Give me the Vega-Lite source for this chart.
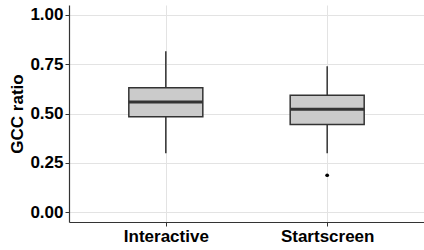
{
  "$schema": "https://vega.github.io/schema/vega-lite/v6.json",
  "autosize": {"type": "none"},
  "width": 355,
  "height": 217,
  "padding": {"left": 69, "top": 5, "right": 0, "bottom": 28},
  "background": "white",
  "config": {
    "view": {"stroke": null},
    "font": "Liberation Sans"
  },
  "datasets": {
    "boxes": [
      {"group": "Interactive", "lower": 0.299, "q1": 0.483, "median": 0.558, "q3": 0.63, "upper": 0.816},
      {"group": "Startscreen", "lower": 0.299, "q1": 0.444, "median": 0.521, "q3": 0.592, "upper": 0.74}
    ],
    "outliers": [
      {"group": "Startscreen", "value": 0.187}
    ]
  },
  "encoding": {
    "x": {
      "field": "group",
      "type": "nominal",
      "scale": {"type": "point", "padding": 0.6, "domain": ["Interactive", "Startscreen"]},
      "axis": {
        "title": null,
        "labelAngle": 0,
        "labelFont": "Liberation Sans",
        "labelFontWeight": "bold",
        "labelFontSize": 17,
        "labelColor": "#000000",
        "labelPadding": 2,
        "tickColor": "#333333",
        "tickSize": 4,
        "domainColor": "#333333",
        "domainWidth": 1.2,
        "grid": true,
        "gridColor": "#E3E3E3",
        "gridWidth": 1
      }
    }
  },
  "layer": [
    {
      "data": {"name": "boxes"},
      "mark": {"type": "rule", "color": "#333333", "strokeWidth": 1.5},
      "encoding": {
        "y": {
          "field": "lower",
          "type": "quantitative",
          "scale": {"domain": [-0.05, 1.05], "nice": false, "zero": false},
          "axis": {
            "title": "GCC ratio",
            "titleFont": "Liberation Sans",
            "titleFontWeight": "bold",
            "titleFontSize": 17,
            "titleColor": "#000000",
            "titlePadding": 3,
            "values": [0, 0.125, 0.25, 0.375, 0.5, 0.625, 0.75, 0.875, 1],
            "labelExpr": "(datum.value * 4) % 1 == 0 ? format(datum.value, '.2f') : ''",
            "labelFont": "Liberation Sans",
            "labelFontWeight": "bold",
            "labelFontSize": 17,
            "labelColor": "#000000",
            "labelPadding": 2,
            "tickSize": 4,
            "tickColor": {"condition": {"test": "(datum.value * 4) % 1 == 0", "value": "#333333"}, "value": "transparent"},
            "domainColor": "#333333",
            "domainWidth": 1.2,
            "grid": true,
            "gridColor": {"condition": {"test": "(datum.value * 4) % 1 == 0", "value": "#E3E3E3"}, "value": "#EFEFEF"},
            "gridWidth": 1
          }
        },
        "y2": {"field": "upper"}
      }
    },
    {
      "data": {"name": "boxes"},
      "mark": {"type": "bar", "fill": "#CBCBCB", "stroke": "#333333", "strokeWidth": 1.5, "size": 74},
      "encoding": {
        "y": {"field": "q1", "type": "quantitative"},
        "y2": {"field": "q3"}
      }
    },
    {
      "data": {"name": "boxes"},
      "mark": {"type": "tick", "color": "#333333", "size": 74, "thickness": 3, "opacity": 1},
      "encoding": {
        "y": {"field": "median", "type": "quantitative"}
      }
    },
    {
      "data": {"name": "outliers"},
      "mark": {"type": "point", "filled": true, "color": "#000000", "size": 14, "opacity": 1},
      "encoding": {
        "y": {"field": "value", "type": "quantitative"}
      }
    }
  ]
}
